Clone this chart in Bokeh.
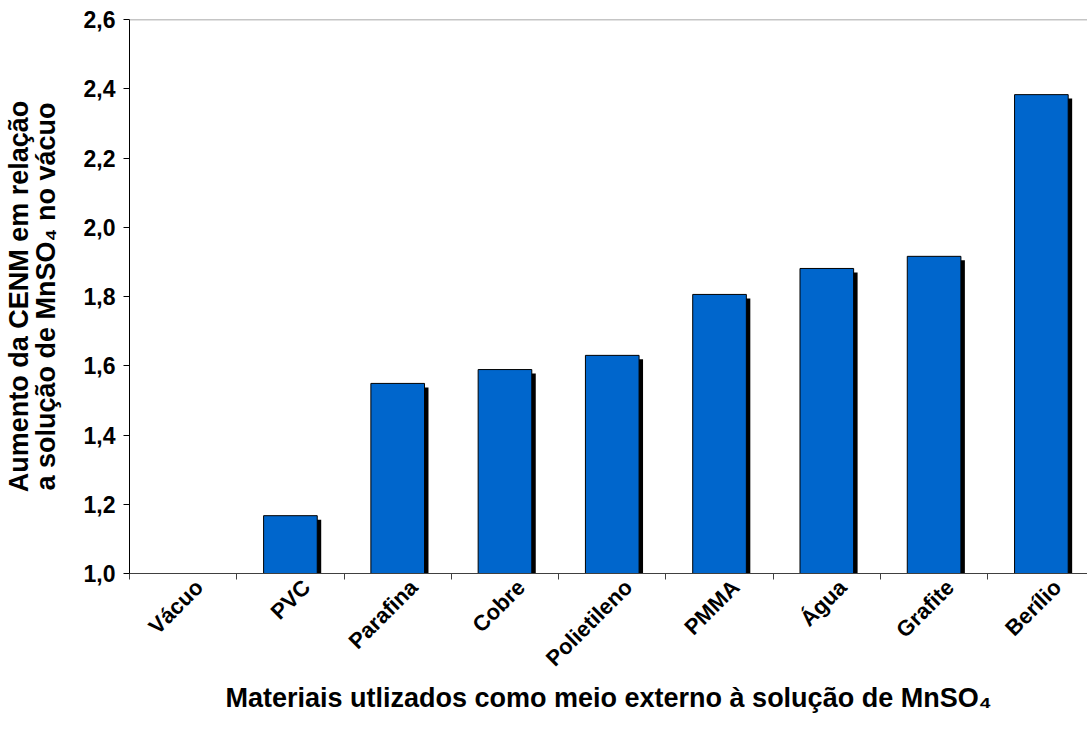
import math
from bokeh.plotting import figure
from bokeh.models import FixedTicker, Range1d, Span
from bokeh.embed import file_html
from bokeh.resources import INLINE

# Materials and the relative increase of the CENM
materiais = ["Vácuo", "PVC", "Parafina", "Cobre", "Polietileno", "PMMA", "Água", "Grafite", "Berílio"]
aumento = [1.0, 1.167, 1.549, 1.589, 1.630, 1.806, 1.881, 1.916, 2.383]
y_ticks = [1.0, 1.2, 1.4, 1.6, 1.8, 2.0, 2.2, 2.4, 2.6]
y_tick_labels = ["1,0", "1,2", "1,4", "1,6", "1,8", "2,0", "2,2", "2,4", "2,6"]
x_title = "Materiais utlizados como meio externo à solução de MnSO\u2084"
y_title = "Aumento da CENM em relação\na solução de MnSO\u2084 no vácuo"

FONT = "Liberation Sans"
BAR_W = 0.5
SHADOW_DX = 0.037   # drop-shadow offset in category units
SHADOW_DY = 0.0115  # drop-shadow offset in value units
LABEL_DX = 0.15     # rotated names end slightly right of the category centre
BASE = 1.0

centers = [i + 0.5 for i in range(len(materiais))]
bounds = list(range(len(materiais) + 1))
label_pos = [round(c + LABEL_DX, 3) for c in centers]

p = figure(width=1087, height=735, output_backend="svg", toolbar_location=None,
           x_range=Range1d(0, 8.93), y_range=Range1d(1.0, 2.6),
           min_border_left=128, min_border_right=0, min_border_top=19, min_border_bottom=162)
p.background_fill_color = "white"
p.border_fill_color = "white"
p.outline_line_color = None
p.grid.visible = False

# drop shadows
p.quad(left=[c - BAR_W / 2 + SHADOW_DX for c in centers],
       right=[c + BAR_W / 2 + SHADOW_DX for c in centers],
       top=[v - SHADOW_DY if v > BASE else BASE for v in aumento],
       bottom=[BASE] * len(aumento),
       fill_color="black", line_color=None)

# bars
p.quad(left=[c - BAR_W / 2 for c in centers],
       right=[c + BAR_W / 2 for c in centers],
       top=aumento, bottom=[BASE] * len(aumento),
       fill_color="#0066CC", line_color="black", line_width=1)

# top frame line
p.add_layout(Span(location=2.6, dimension="width", line_color="#8c8c8c", line_width=1.5))

# x axis: names near the category centres, tick marks at the boundaries
xa = p.xaxis[0]
xa.ticker = FixedTicker(ticks=label_pos, minor_ticks=bounds)
xa.major_label_overrides = {t: m for t, m in zip(label_pos, materiais)}
xa.major_label_orientation = math.pi / 4
xa.major_tick_out = 0
xa.major_tick_in = 0
xa.minor_tick_out = 6
xa.minor_tick_in = 0
xa.minor_tick_line_color = "#404040"
xa.axis_line_color = "#404040"
xa.major_label_text_font = FONT
xa.major_label_text_font_style = "bold"
xa.major_label_text_font_size = "22px"
xa.major_label_text_color = "black"
xa.major_label_standoff = 4
xa.axis_label = x_title
xa.axis_label_text_font = FONT
xa.axis_label_text_font_style = "bold"
xa.axis_label_text_font_size = "27px"
xa.axis_label_text_color = "black"
xa.axis_label_standoff = 0

# y axis
ya = p.yaxis[0]
ya.ticker = FixedTicker(ticks=y_ticks, minor_ticks=[])
ya.major_label_overrides = {t: l for t, l in zip(y_ticks, y_tick_labels)}
ya.major_tick_out = 6
ya.major_tick_in = 0
ya.axis_line_color = "black"
ya.major_tick_line_color = "black"
ya.major_label_text_font = FONT
ya.major_label_text_font_style = "bold"
ya.major_label_text_font_size = "23px"
ya.major_label_text_color = "black"
ya.major_label_standoff = 8
ya.axis_label = y_title
ya.axis_label_text_font = FONT
ya.axis_label_text_font_style = "bold"
ya.axis_label_text_font_size = "27px"
ya.axis_label_text_line_height = 0.9
ya.axis_label_text_color = "black"
ya.axis_label_standoff = 20

open("out.html", "w").write(file_html(p, INLINE))
